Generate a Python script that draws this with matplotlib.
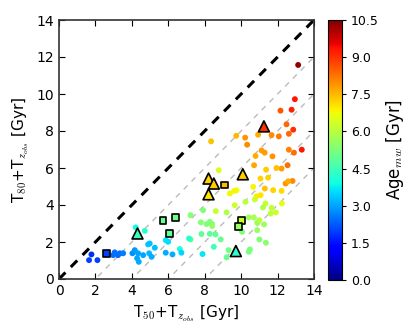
import numpy as np
import matplotlib
matplotlib.use('Agg')
import matplotlib.pyplot as plt

# circles: T50+Tzobs, T80+Tzobs, mass-weighted age
x_circ = [13.13, 12.95, 12.77, 12.16, 12.49, 12.86, 12.62, 12.07, 11.67, 10.93,
          10.22, 9.73, 10.33, 8.35, 13.33, 12.62, 12.90, 11.12, 11.29, 11.72,
          10.79, 10.71, 12.55, 12.22, 11.94, 11.37, 8.77, 11.06, 11.48, 12.44,
          12.82, 12.58, 9.75, 9.62, 9.38, 10.66, 10.84, 11.07, 11.30, 11.76,
          12.22, 9.65, 10.24, 10.75, 11.34, 11.67, 11.91, 12.24, 11.20, 11.62,
          7.22, 7.91, 8.61, 9.20, 7.79, 8.10, 8.41, 8.41, 8.28, 10.42,
          10.70, 10.88, 11.00, 11.26, 10.05, 10.88, 7.22, 7.82, 8.28, 8.59,
          8.88, 8.50, 7.88, 9.31, 9.20, 10.48, 10.42, 11.00, 11.36, 6.63,
          1.78, 1.65, 2.11, 3.06, 2.97, 3.24, 3.34, 3.52, 4.03, 4.16,
          4.34, 4.29, 4.38, 4.62, 4.89, 4.95, 5.08, 5.26, 4.21, 4.71,
          5.86, 5.99, 5.86, 6.23, 6.72, 7.14, 4.98]
y_circ = [11.57, 9.72, 9.15, 9.10, 8.36, 8.07, 7.85, 7.71, 7.78, 7.80,
          7.64, 7.74, 7.26, 7.44, 6.99, 6.99, 6.83, 6.95, 6.83, 6.63,
          6.65, 6.15, 6.15, 5.97, 6.00, 5.91, 5.88, 5.43, 5.48, 5.16,
          5.30, 5.28, 4.80, 4.76, 4.62, 4.98, 4.47, 4.53, 4.89, 4.80,
          4.76, 3.99, 4.17, 4.30, 4.08, 3.84, 3.60, 4.08, 3.87, 3.54,
          3.45, 3.72, 3.67, 3.60, 3.06, 2.97, 2.97, 2.86, 3.09, 3.33,
          3.33, 3.04, 3.18, 2.95, 2.55, 2.64, 2.14, 2.43, 2.44, 2.41,
          2.14, 1.74, 1.35, 1.56, 1.17, 1.60, 1.47, 2.14, 1.96, 1.62,
          1.33, 1.02, 1.02, 1.44, 1.29, 1.29, 1.39, 1.39, 1.39, 1.56,
          1.39, 1.12, 0.93, 1.29, 1.87, 1.39, 1.20, 1.69, 2.79, 2.60,
          2.10, 2.01, 1.42, 1.33, 1.42, 2.19, 1.92]
age_circ = [10.3, 9.3, 9.2, 8.6, 8.4, 9.0, 8.4, 8.2, 8.0, 7.6,
            7.9, 7.5, 8.0, 7.4, 9.3, 8.1, 8.3, 7.8, 7.8, 7.9,
            7.6, 7.7, 8.3, 7.8, 7.4, 7.3, 6.4, 7.2, 7.2, 7.9,
            8.0, 7.6, 6.7, 6.8, 6.8, 6.8, 6.9, 7.0, 7.4, 7.2,
            7.1, 6.3, 6.0, 6.2, 6.2, 6.1, 6.3, 6.6, 5.9, 6.1,
            5.4, 5.3, 6.2, 5.9, 5.3, 5.3, 5.4, 5.6, 5.3, 5.7,
            5.8, 5.6, 6.0, 5.7, 5.3, 5.6, 4.9, 4.9, 4.8, 4.9,
            5.0, 4.5, 3.7, 5.1, 5.0, 5.2, 5.2, 5.3, 5.4, 4.0,
            1.8, 2.0, 2.0, 2.5, 2.5, 2.4, 2.5, 2.6, 2.8, 2.9,
            3.0, 3.0, 3.1, 3.0, 3.4, 3.2, 3.1, 3.3, 3.9, 4.2,
            3.7, 3.6, 3.1, 3.1, 3.5, 4.2, 3.3]

# triangles
x_tri = [8.21, 8.50, 8.21, 10.09, 11.25, 4.31, 9.71]
y_tri = [5.43, 5.16, 4.58, 5.66, 8.25, 2.46, 1.51]
age_tri = [7.2, 7.3, 7.0, 7.3, 9.0, 4.4, 4.3]

# squares
x_sq = [2.60, 5.71, 6.41, 6.08, 9.09, 10.04, 9.87]
y_sq = [1.39, 3.16, 3.33, 2.48, 5.08, 3.16, 2.84]
age_sq = [2.0, 5.0, 5.1, 4.9, 7.5, 6.3, 5.6]

offsets = [2, 4, 6, 8]
cb_ticks = [0.0, 1.5, 3.0, 4.5, 6.0, 7.5, 9.0, 10.5]

plt.rcParams['font.family'] = 'DejaVu Sans'
plt.rcParams['mathtext.fontset'] = 'cm'

fig = plt.figure(figsize=(4.15, 3.36), dpi=100)
ax = fig.add_axes([59 / 415, 57 / 336, 255 / 415, 259 / 336])

line = np.array([0, 14])
for c in offsets:
    ax.plot(line, line - c, ls='--', color='#bbbbbb', lw=1, dashes=(4, 4), zorder=1)
ax.plot(line, line, ls='--', color='k', lw=2.2, dashes=(3, 2.5), zorder=2)

cmap = plt.get_cmap('jet')
norm = matplotlib.colors.Normalize(vmin=0, vmax=10.5)
sc = ax.scatter(x_circ, y_circ, c=age_circ, cmap=cmap, norm=norm, s=18,
                edgecolors='none', zorder=3)
ax.scatter(x_sq, y_sq, c=age_sq, cmap=cmap, norm=norm, s=24, marker='s',
           edgecolors='k', linewidths=1.2, zorder=4)
ax.scatter(x_tri, y_tri, c=age_tri, cmap=cmap, norm=norm, s=62, marker='^',
           edgecolors='k', linewidths=1.2, zorder=4)

ax.set_xlim(0, 14)
ax.set_ylim(0, 14)
ax.set_xticks(range(0, 15, 2))
ax.set_yticks(range(0, 15, 2))
ax.tick_params(direction='in', top=True, right=True, labelsize=10, length=4)
ax.set_xlabel(r'T$_{50}$+T$_{z_{obs}}$ [Gyr]', fontsize=11)
ax.set_ylabel(r'T$_{80}$+T$_{z_{obs}}$ [Gyr]', fontsize=11)
for sp in ax.spines.values():
    sp.set_linewidth(1.2)
    sp.set_color('#333333')

cax = fig.add_axes([328 / 415, 56 / 336, 14 / 415, 260 / 336])
cb = fig.colorbar(sc, cax=cax, ticks=cb_ticks)
cb.ax.set_yticklabels(['%.1f' % t for t in cb_ticks])
cb.ax.tick_params(labelsize=9, length=3)
cb.set_label(r'Age$_{mw}$ [Gyr]', fontsize=12)

fig.savefig('out.png', dpi=100)
